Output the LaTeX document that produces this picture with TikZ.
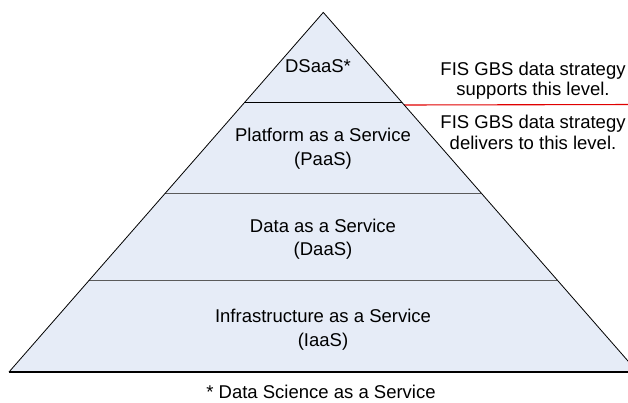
\documentclass[tikz,border=0pt]{standalone}
\usepackage{fontspec}
\setmainfont{Liberation Sans}
\usetikzlibrary{calc}
\definecolor{tierfill}{HTML}{E6ECF7}
\definecolor{tierline}{HTML}{5A5A5A}
\definecolor{baseline}{HTML}{3F3F3F}
\definecolor{markred}{HTML}{E00000}
\begin{document}
\begin{tikzpicture}[x=1pt,y=-1pt,
  txt/.style={font=\fontsize{18.5}{22}\selectfont, inner sep=0pt, anchor=base},
  divider/.style={tierline, line width=1pt}]
\useasboundingbox (0,0) rectangle (628,403);
\clip (0,0) rectangle (628,403);
% pyramid corners
\coordinate (apex) at (323.3,12.4);
\coordinate (bl) at (9,372);
\coordinate (br) at (637.6,372);
\fill[tierfill] (apex) -- (bl) -- (br) -- cycle;
% tier boundaries on the two slanted edges
\coordinate (d1l) at ($(apex)!0.2492!(bl)$);
\coordinate (d1r) at ($(apex)!0.2492!(br)$);
\coordinate (d2l) at ($(apex)!0.5031!(bl)$);
\coordinate (d2r) at ($(apex)!0.5031!(br)$);
\coordinate (d3l) at ($(apex)!0.7442!(bl)$);
\coordinate (d3r) at ($(apex)!0.7442!(br)$);
\draw[black, line width=0.9pt] (d1l) -- (d1r);
\draw[divider] (d2l) -- (d2r);
\draw[divider] (d3l) -- (d3r);
% red marker line between the two notes
\coordinate (r0) at ($(apex)!0.2575!(br)$);
\coordinate (r1) at (640,104.5);
\draw[markred, line width=1.1pt] (r0) -- (r1);
% outline
\draw[black, line width=0.8pt] (bl) -- (apex) -- (br);
\draw[baseline, line width=1.6pt] (bl) -- (br);
% tier labels
\node[txt] (dsaas) at (318,73) {DSaaS*};
\node[txt] (paas1) at (323,141.7) {Platform as a Service};
\node[txt] (paas2) at (323,166) {(PaaS)};
\node[txt] (daas1) at (323,232.5) {Data as a Service};
\node[txt] (daas2) at (323,255.5) {(DaaS)};
\node[txt] (iaas1) at (323,322.5) {Infrastructure as a Service};
\node[txt] (iaas2) at (323,346.5) {(IaaS)};
% notes on the right
\node[txt] (sup1) at (533,76) {FIS GBS data strategy};
\node[txt] (sup2) at (533,96) {supports this level.};
\node[txt] (del1) at (533,128.5) {FIS GBS data strategy};
\node[txt] (del2) at (533,150) {delivers to this level.};
% footnote
\node[txt] (foot) at (321,398.5) {* Data Science as a Service};
\end{tikzpicture}
\end{document}
